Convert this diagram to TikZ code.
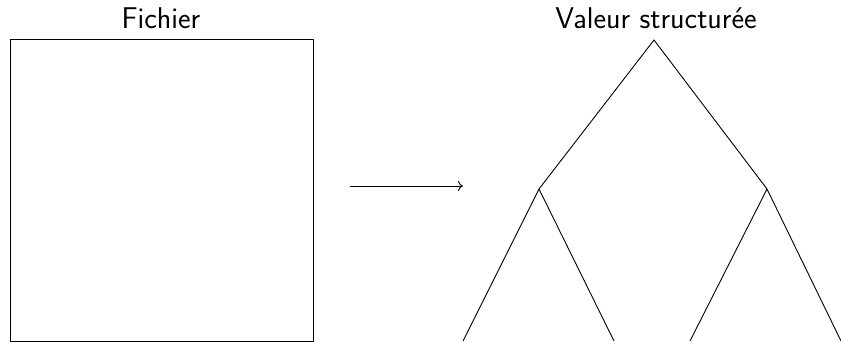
\documentclass[tikz,border=0pt]{standalone}
\usetikzlibrary{arrows.meta}
\renewcommand{\familydefault}{\sfdefault}
\begin{document}
\begin{tikzpicture}[x=1pt,y=-1pt,
  edge/.style={draw=black,line width=0.9pt},
  title/.style={font=\fontsize{30}{35}\selectfont\sffamily,inner sep=0pt,anchor=base}]
\useasboundingbox (0,0) rectangle (841,341);
% file box
\node[draw=black,line width=1pt,minimum width=303pt,minimum height=302pt,inner sep=0pt,anchor=north west] (file) at (9.5,38.5) {};
\node[title] (ftitle) at (161,28) {Fichier};
% structured value tree
\coordinate (root) at (654,40);
\coordinate (l) at (539,189);
\coordinate (r) at (767,189);
\coordinate (ll) at (463,341);
\coordinate (lr) at (614,341);
\coordinate (rl) at (690,341);
\coordinate (rr) at (841,341);
\node[title] (vtitle) at (656,28) {Valeur structurée};
\draw[edge] (ll) -- (l) -- (root) -- (r) -- (rr);
\draw[edge] (l) -- (lr);
\draw[edge] (r) -- (rl);
% conversion arrow
\coordinate (a0) at (350,186);
\coordinate (a1) at (463,186);
\draw[edge,-{To[length=5pt,width=10pt]}] (a0) -- (a1);
\end{tikzpicture}
\end{document}
